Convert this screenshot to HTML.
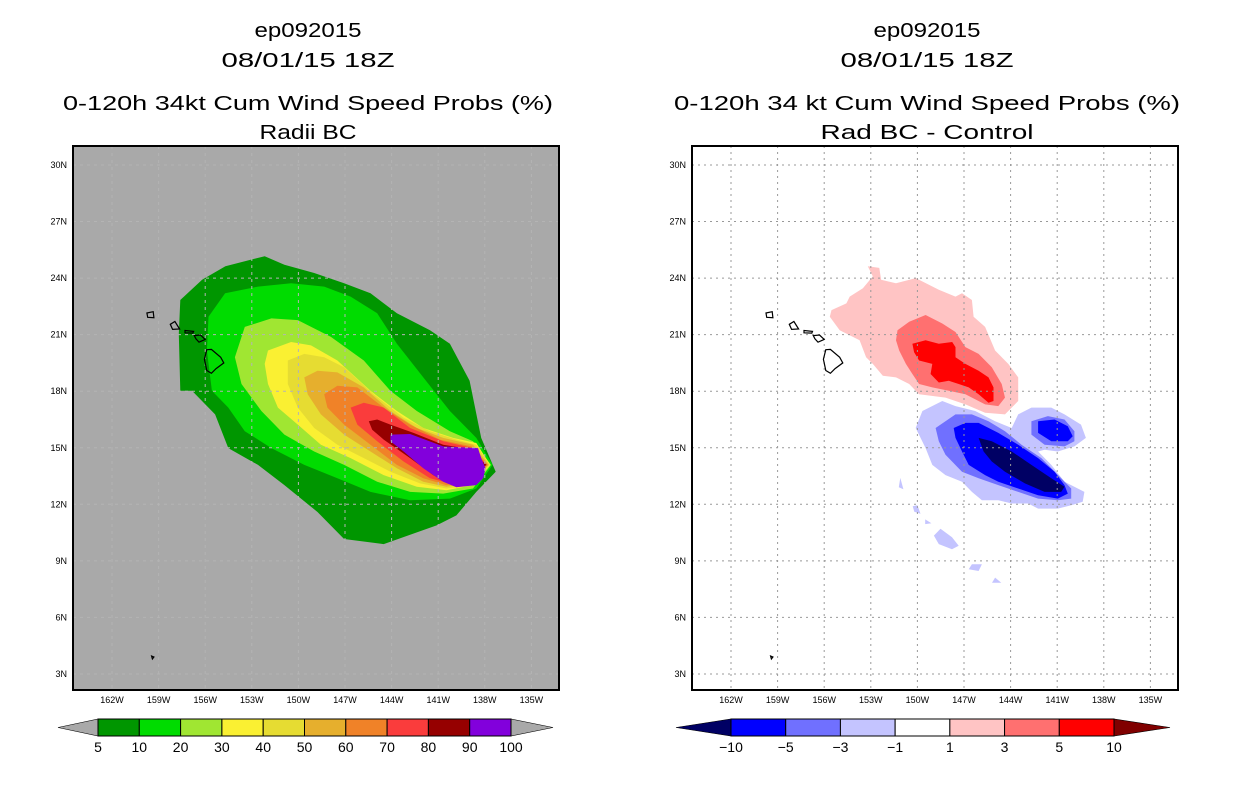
<!DOCTYPE html>
<html><head><meta charset="utf-8"><style>
html,body{margin:0;padding:0;background:#fff;width:1236px;height:800px;overflow:hidden}
svg{display:block}
text{font-family:"Liberation Sans",sans-serif;fill:#000}
</style></head><body>
<svg id="fig" width="1236" height="800" viewBox="0 0 1236 800">
<g font-size="20" text-anchor="middle" lengthAdjust="spacingAndGlyphs">
<text x="308" y="37" textLength="107" lengthAdjust="spacingAndGlyphs">ep092015</text>
<text x="308" y="67" textLength="173" lengthAdjust="spacingAndGlyphs">08/01/15 18Z</text>
<text x="308" y="110" textLength="490" lengthAdjust="spacingAndGlyphs">0-120h 34kt Cum Wind Speed Probs (%)</text>
<text x="308" y="139" textLength="97" lengthAdjust="spacingAndGlyphs">Radii BC</text></g>
<g font-size="20" text-anchor="middle">
<text x="927" y="37" textLength="107" lengthAdjust="spacingAndGlyphs">ep092015</text>
<text x="927" y="67" textLength="173" lengthAdjust="spacingAndGlyphs">08/01/15 18Z</text>
<text x="927" y="110" textLength="506" lengthAdjust="spacingAndGlyphs">0-120h 34 kt Cum Wind Speed Probs (%)</text>
<text x="927" y="139" textLength="213" lengthAdjust="spacingAndGlyphs">Rad BC - Control</text></g>
<g id="left"></g>
<g id="right"></g>
<g id="cbl"></g>
<g id="cbr"></g>
</svg>
<script>
const latTicks=[30,27,24,21,18,15,12,9,6,3];
const lonTicks=[-162,-159,-156,-153,-150,-147,-144,-141,-138,-135];
const probLevels=[5,10,20,30,40,50,60,70,80,90,100];
const probColors=['#009600','#00dc00','#a0e632','#faf032','#e6dc32','#e6af2d','#f08228','#fa3c3c','#960000','#8200dc'];
const diffLevels=[-10,-5,-3,-1,1,3,5,10];
const diffColors=['#000064','#0000ff','#7070ff','#c4c4ff','#ffffff','#ffc4c4','#ff7070','#ff0000','#800000'];
const p05=[[-152.17,25.16],[-150.9,24.71],[-148.98,24.27],[-147.06,23.73],[-145.36,23.2],[-143.66,22.13],[-141.53,21.23],[-140.25,20.52],[-138.98,18.55],[-138.23,15.52],[-137.3,13.73],[-138.55,12.66],[-139.83,11.41],[-141.1,10.88],[-144.51,9.89],[-147.06,10.16],[-148.77,11.59],[-150.9,13.02],[-152.6,14.09],[-154.51,14.98],[-155.36,16.77],[-156.85,18.02],[-157.6,18.02],[-157.7,21.05],[-157.6,22.84],[-156.2,23.91],[-154.7,24.63]];
const p10=[[-154.72,23.2],[-152.6,23.55],[-150.47,23.73],[-148.34,23.55],[-146.64,23.02],[-144.93,22.13],[-143.66,20.52],[-141.96,18.73],[-140.25,16.95],[-138.55,15.52],[-137.5,14.09],[-138.55,12.84],[-140.25,12.3],[-142.81,12.21],[-145.36,12.66],[-147.49,13.38],[-149.62,14.09],[-151.74,14.98],[-153.45,15.88],[-154.51,17.13],[-155.57,18.02],[-155.89,20.16],[-155.79,21.95]];
const p20=[[-153.45,21.41],[-151.74,21.86],[-150.04,21.77],[-147.91,20.88],[-145.79,19.63],[-144.08,18.02],[-142.38,16.95],[-140.25,15.88],[-138.76,15.34],[-137.6,14.09],[-138.76,12.84],[-140.68,12.57],[-142.81,12.66],[-144.93,13.2],[-147.06,14.09],[-148.98,14.8],[-150.9,15.7],[-152.38,16.95],[-153.66,18.38],[-154.09,19.8]];
const p30=[[-151.96,20.16],[-150.47,20.61],[-149.19,20.43],[-147.49,19.63],[-145.36,18.02],[-143.66,16.95],[-141.96,16.05],[-140.04,15.52],[-138.55,15.25],[-137.65,14.09],[-138.76,13.02],[-140.47,12.75],[-142.38,12.93],[-144.51,13.55],[-146.64,14.45],[-148.55,15.16],[-150.04,16.23],[-151.32,17.13],[-151.96,18.38],[-152.17,19.45]];
const p40=[[-150.68,19.63],[-149.62,19.98],[-148.34,19.8],[-147.06,19.27],[-145.15,17.84],[-143.23,16.59],[-141.53,15.88],[-139.83,15.43],[-138.55,15.16],[-137.7,14.09],[-138.87,13.02],[-140.47,12.84],[-142.17,13.11],[-144.08,13.73],[-145.79,14.45],[-147.49,15.16],[-148.98,16.05],[-150.04,17.13],[-150.68,18.38]];
const p50=[[-149.62,18.73],[-148.77,19.09],[-147.49,19.0],[-145.79,18.2],[-144.08,16.95],[-142.38,16.05],[-140.68,15.52],[-138.76,15.16],[-137.75,14.09],[-138.98,13.11],[-140.47,12.93],[-141.96,13.2],[-143.66,13.91],[-145.36,14.8],[-147.06,15.7],[-148.55,16.77],[-149.4,17.84]];
const p60=[[-148.34,17.84],[-147.49,18.29],[-146.21,18.2],[-144.51,17.13],[-142.81,16.23],[-140.89,15.43],[-138.87,15.07],[-137.8,14.09],[-139.08,13.2],[-140.47,13.02],[-141.96,13.38],[-143.66,14.09],[-145.36,15.16],[-147.06,16.23],[-148.13,17.13]];
const p70=[[-146.64,17.13],[-145.79,17.39],[-144.51,17.13],[-142.81,16.05],[-140.68,15.34],[-138.98,15.02],[-137.85,14.09],[-139.19,13.29],[-140.25,13.11],[-141.53,13.38],[-143.23,14.27],[-144.93,15.34],[-146.21,16.23]];
const p80=[[-145.47,16.41],[-144.93,16.5],[-144.08,16.23],[-142.59,15.79],[-140.68,15.16],[-139.08,14.95],[-137.9,14.09],[-139.3,13.25],[-140.25,13.1],[-141.32,13.55],[-142.81,14.45],[-144.51,15.43],[-145.25,15.96]];
const p90=[[-144.08,15.7],[-142.81,15.73],[-140.68,15.07],[-138.44,14.98],[-138.23,14.45],[-137.95,13.91],[-138.1,13.38],[-138.55,13.02],[-139.83,12.9],[-140.68,13.2],[-141.96,13.91],[-143.23,14.8],[-144.08,15.34]];
const dPos1=[[-153.19,24.63],[-152.45,24.54],[-152.34,23.91],[-151.38,23.73],[-150.1,24.0],[-148.62,23.38],[-147.55,23.02],[-147.13,23.2],[-146.49,22.84],[-146.38,21.95],[-145.64,21.41],[-145.0,20.16],[-144.15,19.45],[-143.51,18.73],[-143.51,17.48],[-144.36,16.77],[-145.64,16.86],[-146.91,17.3],[-148.19,17.66],[-149.89,17.84],[-150.53,18.38],[-151.38,18.73],[-152.23,18.82],[-152.87,19.45],[-153.3,19.8],[-153.72,20.7],[-155.0,21.23],[-155.64,21.95],[-155.53,22.3],[-154.57,22.66],[-154.36,23.02],[-153.51,23.46],[-152.87,24.09]];
const dPos3=[[-151.28,21.23],[-150.53,21.68],[-149.47,22.04],[-148.4,21.59],[-147.55,21.14],[-146.91,20.34],[-146.06,19.98],[-145.21,19.27],[-144.57,18.38],[-144.36,17.66],[-144.79,17.21],[-145.64,17.3],[-146.91,17.84],[-147.98,18.02],[-149.04,18.2],[-149.89,18.38],[-150.32,18.91],[-150.74,19.45],[-151.17,20.16],[-151.38,20.7]];
const dPos5=[[-150.32,20.52],[-149.47,20.7],[-148.62,20.52],[-147.76,20.61],[-147.55,20.34],[-147.55,19.8],[-146.91,19.45],[-146.06,19.09],[-145.42,18.73],[-145.1,18.2],[-145.1,17.48],[-145.42,17.39],[-146.06,17.84],[-146.7,18.2],[-147.34,18.38],[-147.98,18.55],[-148.62,18.46],[-149.15,18.91],[-149.04,19.45],[-149.89,19.63],[-150.21,20.07]];
const dNeg1=[[-149.68,16.95],[-148.4,17.48],[-147.55,17.21],[-146.28,16.95],[-145.0,16.41],[-143.93,16.05],[-143.51,16.77],[-142.66,17.13],[-141.38,17.13],[-140.53,16.77],[-139.47,16.23],[-139.15,15.52],[-139.89,15.07],[-140.96,14.8],[-141.81,14.89],[-142.23,14.8],[-141.38,14.09],[-140.53,13.2],[-139.25,12.66],[-139.36,12.13],[-140.1,11.95],[-140.96,11.77],[-142.23,11.77],[-142.87,12.04],[-143.93,12.04],[-144.79,12.21],[-145.85,12.21],[-146.49,12.66],[-147.13,13.2],[-148.19,13.55],[-149.04,14.09],[-149.47,14.98],[-150.11,16.05]];
const dNeg1b=[[-148.94,10.34],[-148.51,10.7],[-147.77,10.25],[-147.34,9.8],[-147.77,9.62],[-148.62,9.89]];
const dNeg1c=[[-146.49,8.82],[-145.85,8.82],[-146.06,8.46],[-146.7,8.55]];
const dNeg1d=[[-145.0,8.11],[-144.6,7.84],[-145.2,7.84]];
const dNeg1e=[[-150.0,11.95],[-149.8,11.5],[-150.2,11.6],[-150.3,11.9]];
const dNeg1f=[[-151.1,13.4],[-150.9,12.8],[-151.2,12.9]];
const dNeg1g=[[-149.5,11.2],[-149.1,11.0],[-149.5,10.95]];
const dNeg3=[[-148.83,16.05],[-147.55,16.77],[-146.49,16.77],[-145.42,16.41],[-144.36,15.88],[-143.3,15.16],[-142.02,14.45],[-140.74,13.38],[-140.1,12.84],[-140.1,12.3],[-140.96,12.21],[-142.23,12.3],[-143.51,12.66],[-144.79,13.02],[-146.06,13.38],[-147.13,13.73],[-148.19,14.63],[-148.62,15.34]];
const dNeg3b=[[-142.66,16.41],[-141.6,16.68],[-140.53,16.5],[-139.89,15.88],[-139.89,15.34],[-140.53,15.07],[-141.81,15.16],[-142.66,15.7]];
const dNeg5=[[-147.66,16.05],[-146.91,16.32],[-146.06,16.32],[-144.79,15.79],[-143.51,15.16],[-142.23,14.45],[-141.17,13.73],[-140.53,13.02],[-140.32,12.57],[-140.96,12.3],[-142.23,12.48],[-143.51,12.84],[-144.79,13.2],[-145.64,13.55],[-146.7,14.09],[-147.13,14.8],[-147.55,15.52]];
const dNeg5b=[[-142.23,16.41],[-141.17,16.5],[-140.32,16.14],[-140.0,15.61],[-140.32,15.34],[-141.38,15.34],[-142.23,15.79]];
const dNeg10=[[-146.06,15.52],[-145.21,15.34],[-143.93,14.8],[-142.66,14.09],[-141.38,13.38],[-140.53,12.93],[-140.74,12.66],[-141.81,12.66],[-143.08,13.11],[-144.36,13.73],[-145.21,14.27],[-145.74,14.8]];
const bigIsland=[[-155.9,20.2],[-155.6,20.22],[-155.0,19.8],[-154.8,19.5],[-155.3,19.2],[-155.6,18.95],[-155.9,19.1],[-156.05,19.7]];
const maui=[[-156.7,20.95],[-156.3,20.98],[-156.0,20.75],[-156.4,20.6],[-156.6,20.78]];
const molokai=[[-157.3,21.22],[-156.75,21.17],[-156.8,21.08],[-157.3,21.1]];
const oahu=[[-158.25,21.55],[-157.95,21.7],[-157.65,21.3],[-158.1,21.28]];
const kauai=[[-159.75,22.15],[-159.35,22.22],[-159.3,21.9],[-159.7,21.92]];
const speck=[[-159.45,3.95],[-159.3,3.9],[-159.4,3.8]];
const NS='http://www.w3.org/2000/svg';
function mk(parent,tag,attrs){const e=document.createElementNS(NS,tag);for(const k in attrs)e.setAttribute(k,attrs[k]);parent.appendChild(e);return e;}
function panel(gid,x0,bg,grid,dash,layers,name){
  const g=document.getElementById(gid);
  const fx=73+(x0-112), fw=486, fy=146, fh=544;
  const X=lon=>x0+(lon+162)/3*46.6;
  const Y=lat=>165+(30-lat)*18.85;
  const bgr=mk(g,'rect',{x:fx,y:fy,width:fw,height:fh,fill:bg});
  
  
  const cg=mk(g,'g',{'clip-path':'url(#clip'+gid+')'});
  const cp=mk(mk(g,'defs',{}),'clipPath',{id:'clip'+gid});
  mk(cp,'rect',{x:fx,y:fy,width:fw,height:fh});
  layers.forEach(([pts,col,nm])=>{
    const p=mk(cg,'polygon',{points:pts.map(q=>X(q[0]).toFixed(1)+','+Y(q[1]).toFixed(1)).join(' '),fill:col});
    
    
  });
  lonTicks.forEach(l=>{const x=X(l);
    const ln=mk(cg,'line',{x1:x,y1:fy,x2:x,y2:fy+fh,stroke:grid,'stroke-dasharray':dash,'stroke-width':1});
    
    
    const t=mk(g,'text',{x:x,y:703,'font-size':9,'text-anchor':'middle'});t.textContent=(-l)+'W';
    
    });
  latTicks.forEach(l=>{const y=Y(l);
    const ln=mk(cg,'line',{x1:fx,y1:y,x2:fx+fw,y2:y,stroke:grid,'stroke-dasharray':dash,'stroke-width':1});
    
    
    const t=mk(g,'text',{x:fx-6,y:y+3,'font-size':9,'text-anchor':'end'});t.textContent=l+'N';
    
    });
  [bigIsland,maui,molokai,oahu,kauai,speck].forEach(pts=>{
    const p=mk(cg,'polygon',{points:pts.map(q=>X(q[0]).toFixed(1)+','+Y(q[1]).toFixed(1)).join(' '),fill:'none',stroke:'#000','stroke-width':1.2});
    
    
  });
  const fr=mk(g,'rect',{x:fx,y:fy,width:fw,height:fh,fill:'none',stroke:'#000','stroke-width':2});
  
  
}
panel('left',112,'#a9a9a9','#b4b4b4','3,4',[
 [p05,probColors[0],'prob-5-10'],[p10,probColors[1],'prob-10-20'],[p20,probColors[2],'prob-20-30'],[p30,probColors[3],'prob-30-40'],
 [p40,probColors[4],'prob-40-50'],[p50,probColors[5],'prob-50-60'],[p60,probColors[6],'prob-60-70'],[p70,probColors[7],'prob-70-80'],
 [p80,probColors[8],'prob-80-90'],[p90,probColors[9],'prob-90-100']],'left');
panel('right',731,'#ffffff','#999999','2,4',[
 [dPos1,diffColors[5],'diff-pos-1-3'],[dPos3,diffColors[6],'diff-pos-3-5'],[dPos5,diffColors[7],'diff-pos-5-10'],
 [dNeg1,diffColors[3],'diff-neg-1-3'],[dNeg1b,diffColors[3],'diff-neg-blob'],[dNeg1c,diffColors[3],'diff-neg-blob'],[dNeg1d,diffColors[3],'diff-neg-blob'],
 [dNeg1e,diffColors[3],'diff-neg-blob'],[dNeg1f,diffColors[3],'diff-neg-blob'],[dNeg1g,diffColors[3],'diff-neg-blob'],
 [dNeg3,diffColors[2],'diff-neg-3-5'],[dNeg3b,diffColors[2],'diff-neg-3-5-east'],[dNeg5,diffColors[1],'diff-neg-5-10'],[dNeg5b,diffColors[1],'diff-neg-5-10-east'],
 [dNeg10,diffColors[0],'diff-neg-10']],'right');
function colorbar(gid,x0,x1,tl,tr,cols,labels,leftCol,rightCol){
  const g=document.getElementById(gid);const y0=719,h=17,n=cols.length,w=(x1-x0)/n;
  const a=mk(g,'polygon',{points:`${tl},${y0+h/2} ${x0},${y0} ${x0},${y0+h}`,fill:leftCol,stroke:'#000','stroke-width':0.6});
  
  
  const b=mk(g,'polygon',{points:`${tr},${y0+h/2} ${x1},${y0} ${x1},${y0+h}`,fill:rightCol,stroke:'#000','stroke-width':0.6});
  
  
  cols.forEach((c,i)=>{const r=mk(g,'rect',{x:x0+i*w,y:y0,width:w,height:h,fill:c,stroke:'#000','stroke-width':1});
    
    });
  labels.forEach((l,i)=>{const t=mk(g,'text',{x:x0+i*w,y:752,'font-size':14,'text-anchor':'middle'});t.textContent=l;
    
    });
}
colorbar('cbl',98,511,58,553,probColors,probLevels,'#a9a9a9','#a9a9a9');
colorbar('cbr',731,1114,676,1170,diffColors.slice(1,8),diffLevels.map(v=>v<0?'\u2212'+(-v):''+v),diffColors[0],diffColors[8]);
</script>
</body></html>
